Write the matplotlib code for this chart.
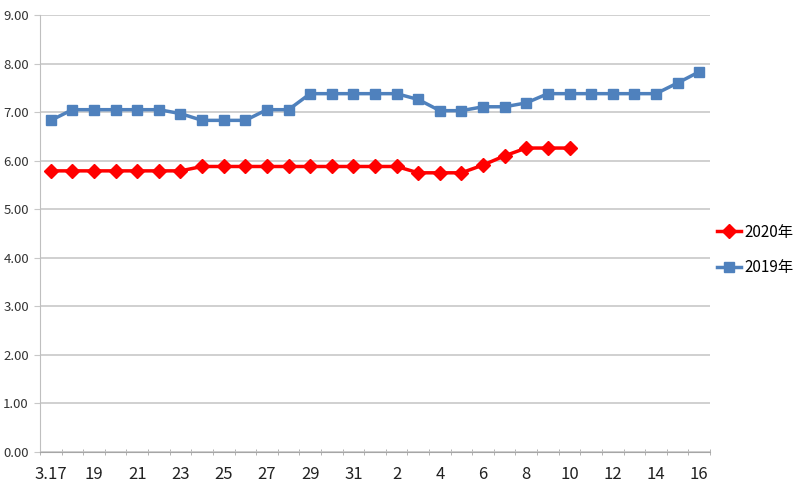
import matplotlib.pyplot as plt
import numpy as np
from matplotlib.ticker import FixedLocator, FormatStrFormatter

# dates: 3.17 .. 3.31, then 4.1 .. 4.16
dates = ['3.17'] + [str(d) for d in range(18, 32)] + [str(d) for d in range(1, 17)]

price_2019 = [6.83, 7.05, 7.05, 7.05, 7.05, 7.05, 6.97, 6.83, 6.83, 6.83,
              7.05, 7.05, 7.38, 7.38, 7.38, 7.38, 7.38, 7.26, 7.03, 7.03,
              7.11, 7.11, 7.19, 7.38, 7.38, 7.38, 7.38, 7.38, 7.38, 7.60,
              7.83]
price_2020 = [5.79, 5.79, 5.79, 5.79, 5.79, 5.79, 5.79, 5.88, 5.88, 5.88,
              5.88, 5.88, 5.88, 5.88, 5.88, 5.88, 5.88, 5.75, 5.75, 5.75,
              5.91, 6.10, 6.26, 6.26, 6.26]

plt.rcParams['font.family'] = ['Liberation Sans Narrow', 'Noto Sans CJK SC', 'DejaVu Sans']

fig = plt.figure(figsize=(8, 5), dpi=100)
ax = fig.add_axes([0.05, 0.096, 0.8375, 0.874])

x19 = np.arange(len(price_2019))
x20 = np.arange(len(price_2020))

ax.plot(x20, price_2020, color='#FF0000', linewidth=2.5, marker='D',
        markersize=7, label='2020年', zorder=3)
ax.plot(x19, price_2019, color='#4F81BD', linewidth=2.5, marker='s',
        markersize=7, label='2019年', zorder=3)

ax.set_ylim(0, 9)
ax.set_xlim(-0.5, len(dates) - 0.5)
ax.set_yticks(np.arange(0, 10, 1))
ax.yaxis.set_major_formatter(FormatStrFormatter('%.2f'))
ax.grid(axis='y', color='#C8C8C8', linewidth=1.2)
ax.set_axisbelow(True)

# labels on every other category, tick marks between categories
ax.set_xticks(x19[::2])
ax.set_xticklabels(dates[::2], fontsize=12, color='#222222')
ax.xaxis.set_minor_locator(FixedLocator(np.arange(-0.5, len(dates), 1)))
ax.tick_params(axis='x', which='major', length=0, pad=10)
ax.tick_params(axis='x', which='minor', length=5, color='#A6A6A6', direction='inout')
ax.tick_params(axis='y', length=4, color='#C8C8C8', labelsize=9.5, labelcolor='#333333', pad=4)

for s in ['top', 'right']:
    ax.spines[s].set_visible(False)
ax.spines['left'].set_color('#BFBFBF')
ax.spines['bottom'].set_color('#A6A6A6')

ax.legend(loc='center left', bbox_to_anchor=(0.888, 0.5), bbox_transform=fig.transFigure,
          frameon=False, fontsize=11, handlelength=1.6, handletextpad=0.2,
          labelspacing=1.2, borderaxespad=0)

fig.savefig('out.png', dpi=100)
